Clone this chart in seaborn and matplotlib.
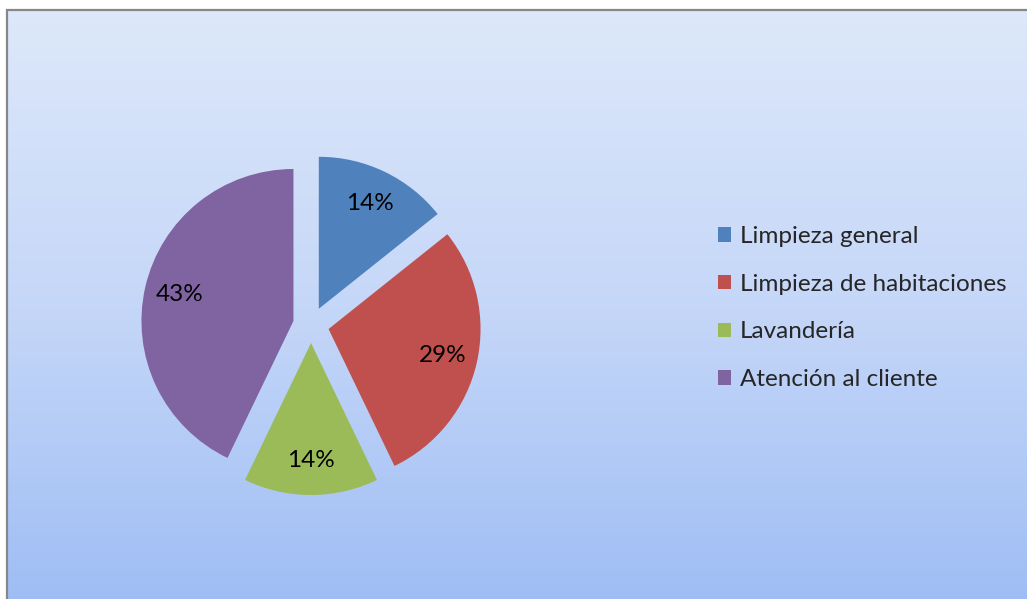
import numpy as np
import matplotlib
matplotlib.use("Agg")
import matplotlib.pyplot as plt
from matplotlib.colors import LinearSegmentedColormap
import seaborn as sns

# Distribution of tasks (counts)
categories = ["Limpieza general", "Limpieza de habitaciones", "Lavandería", "Atención al cliente"]
counts = [1, 2, 1, 3]
colors = ["#4F81BD", "#C0504D", "#9BBB59", "#8064A2"]

sns.set_theme(style="white")
plt.rcParams["font.family"] = ["Lato", "DejaVu Sans"]

W, H = 1027, 599
fig = plt.figure(figsize=(W / 100, H / 100), dpi=100)
fig.patch.set_facecolor("white")

# Background layer: vertical blue gradient, frame shown on the top and left sides
bg = fig.add_axes([0, 0, 1, 1], zorder=0)
bg.set_axis_off()
x0, y1 = 7 / W, 1 - 10 / H
grad = np.repeat(np.linspace(0, 1, 600).reshape(-1, 1), 4, axis=1)
cmap = LinearSegmentedColormap.from_list("bg", ["#dde8fa", "#c4d6f8", "#9bbbf4"])
bg.imshow(grad, cmap=cmap, extent=[x0, 1.05, -0.05, y1], aspect="auto",
          origin="upper", interpolation="nearest")
bg.plot([x0, x0, 1.05], [-0.05, y1, y1], color="#878787",
        linewidth=1.6, solid_joinstyle="miter")
bg.set_xlim(0, 1)
bg.set_ylim(0, 1)

# Pie layer, in pixel-like data units
ax = fig.add_axes([0, 0, 1, 1], zorder=1)
ax.set_axis_off()
ax.patch.set_visible(False)

cx, cy, r = 311, H - 325, 152
wedges, texts, autotexts = ax.pie(
    counts,
    colors=colors,
    startangle=90,
    counterclock=False,
    explode=[18] * len(counts),
    center=(cx, cy),
    radius=r,
    autopct=lambda p: f"{p:.0f}%",
    pctdistance=0.77,
    wedgeprops=dict(linewidth=0),
    textprops=dict(fontsize=17.5, color="black"),
    frame=False,
)
ax.set_xlim(0, W)
ax.set_ylim(0, H)
ax.set_aspect("equal", adjustable="datalim")

ax.legend(
    wedges, categories,
    loc="upper left",
    bbox_to_anchor=(718 / W, 1 - 226 / H),
    bbox_transform=fig.transFigure,
    frameon=False,
    fontsize=17.5,
    handlelength=0.54,
    handleheight=0.54,
    handletextpad=0.36,
    labelspacing=1.1,
    borderaxespad=0,
    borderpad=0,
)

fig.savefig("out.png", dpi=100, facecolor="white")
